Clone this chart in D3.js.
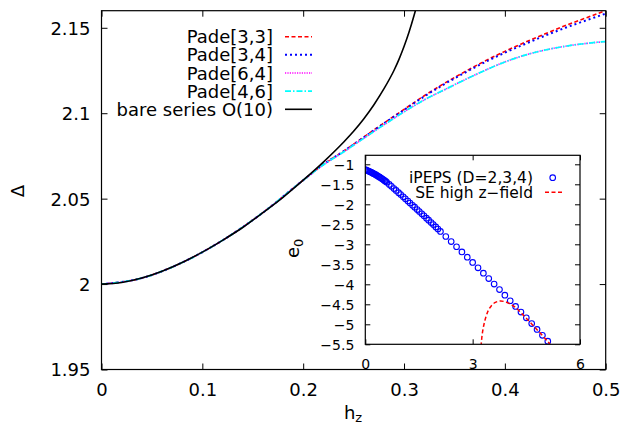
<!DOCTYPE html>
<html><head><meta charset="utf-8">
<script src="https://cdn.jsdelivr.net/npm/d3@7/dist/d3.min.js"></script>
<style>
body{margin:0;background:#fff}
svg{display:block}
text{font-family:"DejaVu Sans",Verdana,sans-serif;fill:#000}
</style>
</head><body>
<svg id="chart" width="626" height="425"></svg>
<script>
// ---------- data ----------
const mainXTicks = [0, 0.1, 0.2, 0.3, 0.4, 0.5];
const mainXTickLabels = ["0", "0.1", "0.2", "0.3", "0.4", "0.5"];
const mainYTicks = [1.95, 2, 2.05, 2.1, 2.15];
const mainYTickLabels = ["1.95", "2", "2.05", "2.1", "2.15"];

const seriesNames = ["Pade[3,3]", "Pade[3,4]", "Pade[6,4]", "Pade[4,6]", "bare series O(10)"];

const bareH = [0, 0.02, 0.04, 0.06, 0.08, 0.10, 0.12, 0.14, 0.16, 0.18, 0.20, 0.22, 0.24, 0.25, 0.26, 0.27, 0.28, 0.29, 0.295, 0.30, 0.305, 0.31, 0.315];
const bareD = [2.0000, 2.0009, 2.0035, 2.0075, 2.0126, 2.0187, 2.0256, 2.0331, 2.0418, 2.0508, 2.0608, 2.0714, 2.0830, 2.0894, 2.0966, 2.1048, 2.1142, 2.1250, 2.1315, 2.1390, 2.1475, 2.1573, 2.1683];

const padeH  = [0, 0.04, 0.08, 0.12, 0.16, 0.20, 0.22, 0.24, 0.26, 0.28, 0.30, 0.32, 0.34, 0.36, 0.38, 0.40, 0.42, 0.44, 0.46, 0.48, 0.50];
const pade33 = [2.0000, 2.0035, 2.0126, 2.0256, 2.0418, 2.0608, 2.0700, 2.0778, 2.0860, 2.0942, 2.1022, 2.1102, 2.1175, 2.1242, 2.1305, 2.1362, 2.1415, 2.1465, 2.1513, 2.1557, 2.1601];
const pade34 = [2.0000, 2.0035, 2.0126, 2.0256, 2.0418, 2.0608, 2.0700, 2.0777, 2.0858, 2.0940, 2.1019, 2.1098, 2.1170, 2.1236, 2.1298, 2.1354, 2.1405, 2.1454, 2.1500, 2.1542, 2.1583];
const pade64 = [2.0000, 2.0035, 2.0126, 2.0256, 2.0418, 2.0608, 2.0698, 2.0773, 2.0853, 2.0932, 2.1008, 2.1078, 2.1137, 2.1195, 2.1250, 2.1300, 2.1340, 2.1370, 2.1392, 2.1408, 2.1419];
const pade46 = [2.0000, 2.0035, 2.0126, 2.0256, 2.0418, 2.0608, 2.0698, 2.0773, 2.0853, 2.0932, 2.1008, 2.1078, 2.1137, 2.1195, 2.1250, 2.1300, 2.1340, 2.1370, 2.1392, 2.1408, 2.1420];

// inset
const insetXTicks = [0, 3, 6];
const insetXTickLabels = ["0", "3", "6"];
const insetYTicks = [-5.5, -5, -4.5, -4, -3.5, -3, -2.5, -2, -1.5, -1];
const insetYTickLabels = ["\u22125.5", "\u22125", "\u22124.5", "\u22124", "\u22123.5", "\u22123", "\u22122.5", "\u22122", "\u22121.5", "\u22121"];
const insetNames = ["iPEPS (D=2,3,4)", "SE high z\u2212field"];

const ipepsH = [0, 0.03, 0.06, 0.09, 0.12, 0.15, 0.18, 0.21, 0.24, 0.27, 0.30, 0.33, 0.36, 0.39, 0.42, 0.45, 0.48, 0.51, 0.54, 0.57, 0.60,
  0.67, 0.73, 0.80, 0.86, 0.93, 0.99, 1.06, 1.12, 1.19, 1.25, 1.32, 1.38, 1.45, 1.51, 1.58, 1.64, 1.71, 1.77, 1.84, 1.90, 1.97, 2.03, 2.10,
  2.25, 2.40, 2.55, 2.70, 2.85, 3.00, 3.15, 3.30, 3.45, 3.60, 3.75, 3.90, 4.05, 4.20, 4.35, 4.50, 4.65, 4.80, 4.95, 5.10];
const ipepsE = [-1.135, -1.146, -1.157, -1.169, -1.181, -1.194, -1.207, -1.221, -1.236, -1.251, -1.266, -1.282, -1.299, -1.316, -1.333, -1.351, -1.370, -1.389, -1.409, -1.429, -1.449,
  -1.504, -1.551, -1.606, -1.654, -1.709, -1.757, -1.813, -1.862, -1.918, -1.967, -2.024, -2.073, -2.131, -2.180, -2.238, -2.288, -2.347, -2.397, -2.456, -2.507, -2.566, -2.618, -2.678,
  -2.805, -2.932, -3.061, -3.191, -3.322, -3.454, -3.588, -3.722, -3.858, -3.994, -4.132, -4.271, -4.411, -4.552, -4.695, -4.838, -4.983, -5.128, -5.275, -5.423];

const seH = [3.235, 3.26, 3.29, 3.33, 3.38, 3.44, 3.52, 3.62, 3.75, 3.88, 4.00, 4.10, 4.20, 4.35, 4.50, 4.65, 4.80, 4.95, 5.10, 5.16];
const seE = [-5.55, -5.30, -5.12, -4.95, -4.79, -4.65, -4.54, -4.46, -4.42, -4.43, -4.47, -4.52, -4.58, -4.71, -4.85, -4.99, -5.135, -5.28, -5.43, -5.49];

// ---------- drawing ----------
const svg = d3.select("#chart");
svg.append("rect").attr("width", 626).attr("height", 425).attr("fill", "#fff");

const L = 101.5, R = 605.7, T = 10.7, B = 369.5;
const x = d3.scaleLinear().domain([0, 0.5]).range([L, R]);
const y = d3.scaleLinear().domain([1.95, 2.16]).range([B, T]);

const defs = svg.append("defs");
defs.append("clipPath").attr("id", "mainClip").append("rect")
  .attr("x", L).attr("y", T).attr("width", R - L).attr("height", B - T);

const styles = [
  {color: "#ff0000", dash: "4,2.5", w: 1.6},
  {color: "#0000ff", dash: "2,3", w: 2},
  {color: "#ff00ff", dash: "1.2,1.2", w: 1.6},
  {color: "#00ffff", dash: "6,2,1.5,2", w: 1.7},
  {color: "#000000", dash: null, w: 1.6}
];

const mainSeries = [
  {h: padeH, v: pade33},
  {h: padeH, v: pade34},
  {h: padeH, v: pade64},
  {h: padeH, v: pade46},
  {h: bareH, v: bareD}
];

const line = d3.line().x(d => x(d[0])).y(d => y(d[1])).curve(d3.curveMonotoneX);
const gCurves = svg.append("g").attr("clip-path", "url(#mainClip)");
mainSeries.forEach((s, i) => {
  const pts = s.h.map((h, k) => [h, s.v[k]]);
  gCurves.append("path").attr("d", line(pts)).attr("fill", "none")
    .attr("stroke", styles[i].color).attr("stroke-width", styles[i].w)
    .attr("stroke-dasharray", styles[i].dash);
});

// axes (inward ticks, mirrored)
const FS = 18;
const ax = svg.append("g").attr("transform", `translate(0,${B})`)
  .call(d3.axisBottom(x).tickValues(mainXTicks).tickSize(-6).tickPadding(0)
    .tickFormat((d, i) => mainXTickLabels[i]));
ax.selectAll("text").attr("y", 26).attr("dy", null).style("font-size", FS + "px");
const axT = svg.append("g").attr("transform", `translate(0,${T})`)
  .call(d3.axisTop(x).tickValues(mainXTicks).tickSize(-6).tickFormat(""));
const ay = svg.append("g").attr("transform", `translate(${L},0)`)
  .call(d3.axisLeft(y).tickValues(mainYTicks).tickSize(-6).tickPadding(11)
    .tickFormat((d, i) => mainYTickLabels[i]));
ay.selectAll("text").attr("dy", "0.36em").style("font-size", FS + "px");
const ayR = svg.append("g").attr("transform", `translate(${R},0)`)
  .call(d3.axisRight(y).tickValues(mainYTicks).tickSize(-6).tickFormat(""));
[ax, axT, ay, ayR].forEach(g => {
  g.select(".domain").remove();
  g.selectAll("line").attr("stroke", "#000").attr("stroke-width", 1);
  g.attr("font-family", null).attr("font-size", null);
});
svg.append("rect").attr("x", L).attr("y", T).attr("width", R - L).attr("height", B - T)
  .attr("fill", "none").attr("stroke", "#000").attr("stroke-width", 1.2);

// axis labels
const hz = svg.append("text").attr("x", 353).attr("y", 419).attr("text-anchor", "middle").style("font-size", FS + "px");
hz.append("tspan").text("h");
hz.append("tspan").attr("dy", 3).style("font-size", "13px").text("z");
svg.append("text").attr("transform", "translate(23.5,191) rotate(-90)").attr("text-anchor", "middle")
  .style("font-size", FS + "px").text("\u0394");

// legend
const legX = 273, legS1 = 285, legS2 = 312;
seriesNames.forEach((n, i) => {
  const yy = 36.7 + 18.15 * i;
  svg.append("text").attr("x", legX).attr("y", yy + 6.5).attr("text-anchor", "end")
    .style("font-size", FS + "px").text(n);
  svg.append("line").attr("x1", legS1).attr("x2", legS2).attr("y1", yy).attr("y2", yy)
    .attr("stroke", styles[i].color).attr("stroke-width", styles[i].w)
    .attr("stroke-dasharray", styles[i].dash);
});

// ---------- inset ----------
const iL = 365.3, iR = 580, iT = 155.3, iB = 344.3;
const xi = d3.scaleLinear().domain([0, 6]).range([iL, iR]);
const yi = d3.scaleLinear().domain([-5.5, -0.775]).range([iB, iT]);
svg.append("rect").attr("x", iL).attr("y", iT).attr("width", iR - iL).attr("height", iB - iT).attr("fill", "#fff");
defs.append("clipPath").attr("id", "insetClip").append("rect")
  .attr("x", iL).attr("y", iT).attr("width", iR - iL).attr("height", iB - iT);

const IFS = 14;
const bx = svg.append("g").attr("transform", `translate(0,${iB})`)
  .call(d3.axisBottom(xi).tickValues(insetXTicks).tickSize(-5).tickPadding(0)
    .tickFormat((d, i) => insetXTickLabels[i]));
bx.selectAll("text").attr("y", 24.5).attr("dy", null).style("font-size", IFS + "px");
const bxT = svg.append("g").attr("transform", `translate(0,${iT})`)
  .call(d3.axisTop(xi).tickValues(insetXTicks).tickSize(-5).tickFormat(""));
const by = svg.append("g").attr("transform", `translate(${iL},0)`)
  .call(d3.axisLeft(yi).tickValues(insetYTicks).tickSize(-5).tickPadding(11)
    .tickFormat((d, i) => insetYTickLabels[i]));
by.selectAll("text").attr("dy", "0.36em").style("font-size", IFS + "px");
const byR = svg.append("g").attr("transform", `translate(${iR},0)`)
  .call(d3.axisRight(yi).tickValues(insetYTicks).tickSize(-5).tickFormat(""));
[bx, bxT, by, byR].forEach(g => {
  g.select(".domain").remove();
  g.selectAll("line").attr("stroke", "#000").attr("stroke-width", 1);
  g.attr("font-family", null).attr("font-size", null);
});

const gIn = svg.append("g").attr("clip-path", "url(#insetClip)");
gIn.selectAll("circle.pt").data(ipepsH.map((h, k) => [h, ipepsE[k]])).enter()
  .append("circle").attr("class", "pt")
  .attr("cx", d => xi(d[0])).attr("cy", d => yi(d[1])).attr("r", 2.8)
  .attr("fill", "none").attr("stroke", "#0000ff").attr("stroke-width", 1.1);
const lineI = d3.line().x(d => xi(d[0])).y(d => yi(d[1])).curve(d3.curveCatmullRom);
gIn.append("path").attr("d", lineI(seH.map((h, k) => [h, seE[k]])))
  .attr("fill", "none").attr("stroke", "#ff0000").attr("stroke-width", 1.5).attr("stroke-dasharray", "4,2.5");

svg.append("rect").attr("x", iL).attr("y", iT).attr("width", iR - iL).attr("height", iB - iT)
  .attr("fill", "none").attr("stroke", "#000").attr("stroke-width", 1.2);

// inset legend
const ILF = 15.5;
svg.append("text").attr("x", 533).attr("y", 177.7 + 5.6).attr("text-anchor", "end")
  .style("font-size", ILF + "px").text(insetNames[0]);
svg.append("circle").attr("cx", 552.7).attr("cy", 177.7).attr("r", 2.8)
  .attr("fill", "none").attr("stroke", "#0000ff").attr("stroke-width", 1.1);
svg.append("text").attr("x", 533).attr("y", 192.3 + 5.6).attr("text-anchor", "end")
  .style("font-size", ILF + "px").text(insetNames[1]);
svg.append("line").attr("x1", 545).attr("x2", 562).attr("y1", 192.3).attr("y2", 192.3)
  .attr("stroke", "#ff0000").attr("stroke-width", 1.5).attr("stroke-dasharray", "4,2.5");

// inset y label
const e0 = svg.append("text").attr("transform", "translate(299,258) rotate(-90)")
  .attr("text-anchor", "start").style("font-size", FS + "px");
e0.append("tspan").text("e");
e0.append("tspan").attr("dy", 4).style("font-size", "13px").text("0");
</script>
</body></html>
